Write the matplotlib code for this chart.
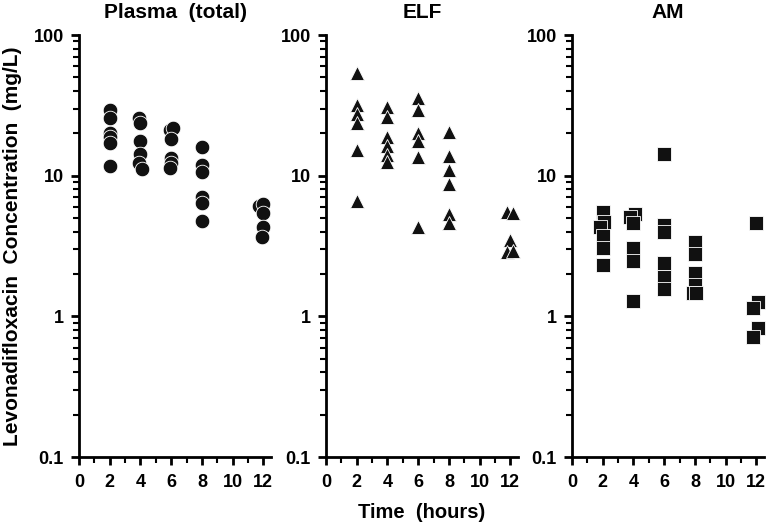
import matplotlib
matplotlib.use('Agg')
from matplotlib import pyplot as plt
from matplotlib.ticker import LogLocator, FixedLocator, FuncFormatter

plt.rcParams['font.family'] = ['Liberation Sans', 'DejaVu Sans']
plt.rcParams['font.weight'] = 'bold'

# plasma (total), mg/L
plasma_t = [2, 2, 2, 2, 2, 2,
            3.9, 4, 4, 4, 3.9, 4.1,
            5.9, 6.1, 6, 6, 6, 5.9,
            8, 8, 8, 8, 8, 8,
            11.7, 12, 12, 12, 11.9]
plasma_c = [29.3, 25.6, 20.0, 18.7, 17.0, 11.7,
            25.6, 23.5, 17.7, 14.3, 12.4, 11.2,
            21.0, 21.7, 18.2, 13.3, 12.3, 11.3,
            16.1, 11.9, 10.7, 7.1, 6.4, 4.8,
            6.1, 6.3, 5.4, 4.3, 3.65]

# epithelial lining fluid
elf_t = [2, 2, 2, 2, 2, 2,
         4, 4, 4, 4, 4, 4,
         6, 6, 6, 6, 6, 6,
         8, 8, 8, 8, 8, 8,
         11.8, 12.2, 12, 11.8, 12.2]
elf_c = [53.5, 31.8, 27.5, 23.6, 15.2, 6.6,
         30.6, 26.0, 18.7, 16.2, 14.0, 12.6,
         35.5, 29.3, 20.0, 17.7, 13.5, 4.3,
         20.5, 13.8, 10.9, 8.7, 5.3, 4.6,
         5.5, 5.4, 3.5, 2.88, 2.93]

# alveolar macrophages
am_t = [2, 2.1, 1.8, 2, 2, 2,
        4.1, 3.8, 4, 4, 4, 4,
        6, 6, 6, 6, 6, 6,
        8, 8, 8, 8, 7.9, 8.1,
        12, 12.1, 11.8, 12.1, 11.8]
am_c = [5.5, 4.7, 4.3, 3.7, 3.05, 2.3,
        5.3, 5.1, 4.6, 3.08, 2.49, 1.29,
        14.3, 4.47, 4.0, 2.38, 1.91, 1.56,
        3.4, 2.77, 2.02, 1.67, 1.46, 1.46,
        4.6, 1.26, 1.14, 0.82, 0.71]

titles = ['Plasma  (total)', 'ELF', 'AM']
markers = ['o', '^', 's']
sizes = [10.5, 10, 9.5]
xticks = [0, 2, 4, 6, 8, 10, 12]

fig = plt.figure(figsize=(7.66, 5.24), dpi=100)
lefts = [79 / 766, 326 / 766, 572 / 766]
data = [(plasma_t, plasma_c), (elf_t, elf_c), (am_t, am_c)]

for i in range(3):
    ax = fig.add_axes([lefts[i], 1 - 457 / 524, 192 / 766, 422 / 524])
    t, c = data[i]
    ax.plot(t, c, linestyle='none', marker=markers[i], markersize=sizes[i],
            color='#111111', markeredgecolor='white', markeredgewidth=0.6,
            clip_on=False)
    ax.set_yscale('log')
    ax.set_ylim(0.1, 100)
    ax.set_xlim(0, 12.5)
    for s in ['top', 'right']:
        ax.spines[s].set_visible(False)
    for s in ['left', 'bottom']:
        ax.spines[s].set_linewidth(2)
    ax.yaxis.set_major_locator(FixedLocator([0.1, 1, 10, 100]))
    ax.yaxis.set_minor_locator(LogLocator(base=10, subs=range(2, 10)))
    ax.yaxis.set_major_formatter(FuncFormatter(lambda v, p: '%g' % v))
    ax.set_xticks(xticks)
    ax.set_xticks([1, 3, 5, 7, 9, 11], minor=True)
    ax.tick_params(axis='both', which='major', length=6, width=2,
                   labelsize=13, direction='out')
    ax.tick_params(axis='both', which='minor', length=4, width=1.5,
                   direction='out')
    ax.tick_params(axis='x', which='major', pad=6)
    ax.tick_params(axis='y', which='major', pad=5)
    ax.tick_params(axis='y', which='minor', labelleft=False)
    ax.set_title(titles[i], fontsize=15, fontweight='bold', pad=12)
    if i == 0:
        ax.set_ylabel('Levonadifloxacin  Concentration  (mg/L)',
                      fontsize=15, fontweight='bold', labelpad=8)
    if i == 1:
        ax.set_xlabel('Time  (hours)', fontsize=14.5, fontweight='bold',
                      labelpad=9)

plt.savefig('out.png', dpi=100)
